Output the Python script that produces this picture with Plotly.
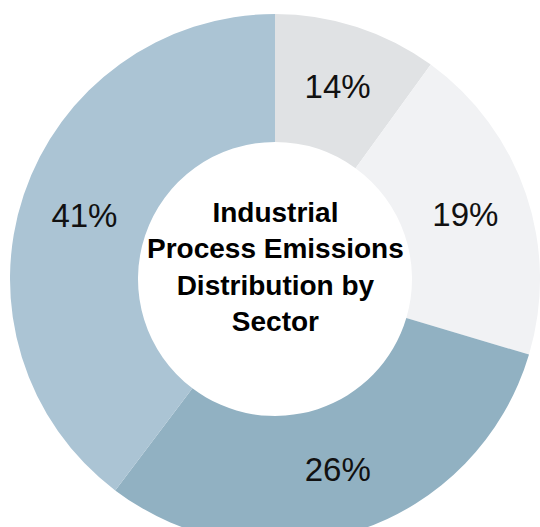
import plotly.graph_objects as go

sectors = ["Sector A", "Sector B", "Sector C", "Sector D"]
slice_sizes = [10.0, 19.6, 30.7, 39.7]
label_texts = ["14%", "19%", "26%", "41%"]
colors = ["#e0e2e4", "#f1f2f4", "#91b1c2", "#abc4d4"]
title_lines = ["Industrial", "Process Emissions", "Distribution by", "Sector"]

W, H = 540, 560
ML, MR, MT, MB = 10, 0, 14, 16

fig = go.Figure(go.Pie(
    labels=sectors,
    values=slice_sizes,
    text=label_texts,
    textinfo="text",
    textposition="inside",
    insidetextorientation="horizontal",
    hole=0.517,
    sort=False,
    direction="clockwise",
    rotation=0,
    marker=dict(colors=colors, line=dict(width=0)),
    textfont=dict(family="Liberation Sans, Arial, sans-serif", size=33, color="#111111"),
    showlegend=False,
    hoverinfo="label+percent",
))

plot_h = H - MT - MB
y_center_px = 267
fig.add_annotation(
    text="<br>".join("<b>" + s + "</b>" for s in title_lines),
    x=0.5, xref="paper",
    y=1 - (y_center_px - MT) / plot_h, yref="paper",
    xanchor="center", yanchor="middle",
    showarrow=False,
    font=dict(family="Liberation Sans, Arial, sans-serif", size=28, color="#000000"),
)

fig.update_layout(
    width=W, height=H,
    margin=dict(l=ML, r=MR, t=MT, b=MB, pad=0),
    paper_bgcolor="white",
    plot_bgcolor="white",
)

fig.write_html(
    "out.html",
    config={"displayModeBar": False},
    post_script="document.body.style.margin='0';document.body.style.overflow='hidden';document.documentElement.style.overflow='hidden';",
)
